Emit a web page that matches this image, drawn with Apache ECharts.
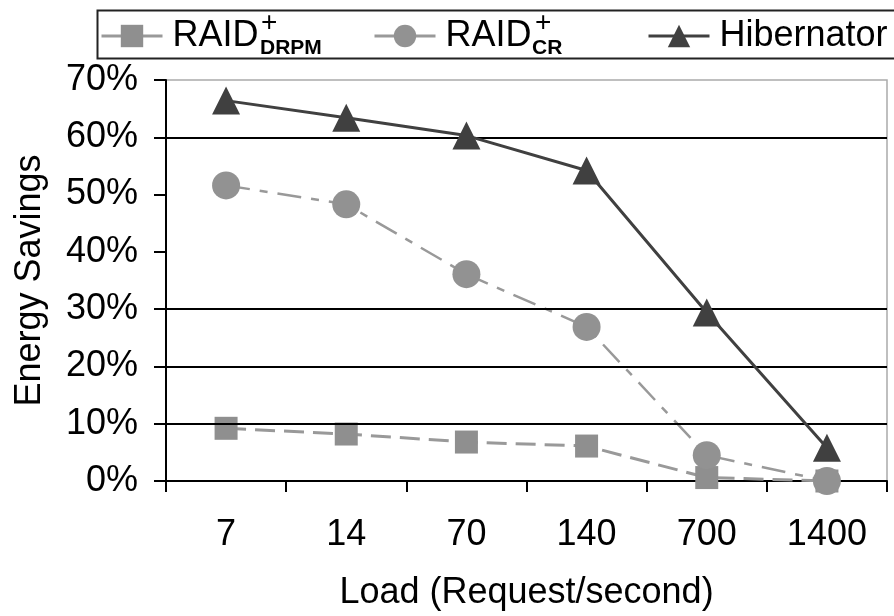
<!DOCTYPE html>
<html>
<head>
<meta charset="utf-8">
<script src="https://cdn.jsdelivr.net/npm/echarts@6/dist/echarts.min.js"></script>
<style>
html,body{margin:0;padding:0;background:#fff;}
#chart{width:894px;height:616px;}
</style>
</head>
<body>
<div id="chart"></div>
<script>
var categories = ['7', '14', '70', '140', '700', '1400'];
var raidDrpm = [9.2, 8.2, 6.8, 6.1, 0.6, 0];
var raidCr = [51.6, 48.3, 36.1, 26.9, 4.5, 0];
var hibernator = [66.4, 63.4, 60.3, 54.2, 29.4, 5.8];
var gridValues = [10, 20, 30, 60];
var seriesNames = ['RAID+DRPM', 'RAID+CR', 'Hibernator'];
var legendSubs = ['DRPM', 'CR'];

var FONT = '"Liberation Sans", Arial, Helvetica, sans-serif';
var chart = echarts.init(document.getElementById('chart'), null, {renderer: 'canvas'});

function legendCfg(name, left) {
  return {
    data: [name],
    left: left,
    top: 18,
    itemWidth: 61,
    itemHeight: 28,
    padding: 0,
    selectedMode: false,
    formatter: function (n) { return n === 'Hibernator' ? 'Hibernator' : 'RAID'; },
    textStyle: {fontFamily: FONT, fontSize: 36, color: '#000', padding: [0, 0, 0, 5]},
    lineStyle: {type: 'solid', width: 3}
  };
}

var option = {
  backgroundColor: '#fff',
  animation: false,
  textStyle: {fontFamily: FONT},
  grid: {
    left: 166, right: 7, top: 80, bottom: 134,
    show: true, borderColor: '#aaa', borderWidth: 1.5, backgroundColor: 'transparent'
  },
  legend: [
    legendCfg(seriesNames[0], 100),
    legendCfg(seriesNames[1], 373),
    legendCfg(seriesNames[2], 647)
  ],
  graphic: [
    {type: 'rect', left: 95, top: 8, shape: {width: 830, height: 48},
     style: {fill: 'none', stroke: '#222', lineWidth: 2}, z: 0},
    {type: 'text', left: 260, top: 38, style: {text: legendSubs[0], font: 'bold 21px ' + FONT, fill: '#000'}},
    {type: 'text', left: 261, top: 9, style: {text: '+', font: '28px ' + FONT, fill: '#000'}},
    {type: 'text', left: 532, top: 38, style: {text: legendSubs[1], font: 'bold 21px ' + FONT, fill: '#000'}},
    {type: 'text', left: 535, top: 9, style: {text: '+', font: '28px ' + FONT, fill: '#000'}}
  ],
  xAxis: {
    type: 'category',
    data: categories,
    boundaryGap: true,
    name: 'Load (Request/second)',
    nameLocation: 'middle',
    nameGap: 94,
    nameTextStyle: {fontSize: 36, color: '#000', fontFamily: FONT},
    axisLine: {show: true, lineStyle: {color: '#000', width: 2}},
    axisTick: {show: true, length: 11, lineStyle: {color: '#000', width: 2}},
    axisLabel: {fontSize: 36, color: '#000', margin: 36, fontFamily: FONT},
    splitLine: {show: false}
  },
  yAxis: {
    type: 'value',
    min: 0, max: 70, interval: 10,
    name: 'Energy Savings',
    nameLocation: 'middle',
    nameRotate: 90,
    nameGap: 118,
    nameTextStyle: {fontSize: 36, color: '#000', fontFamily: FONT},
    axisLine: {show: true, lineStyle: {color: '#000', width: 2}},
    axisTick: {show: true, length: 12, lineStyle: {color: '#000', width: 2}},
    axisLabel: {fontSize: 36, color: '#000', margin: 28, formatter: '{value}%', fontFamily: FONT},
    splitLine: {show: false}
  },
  series: [
    {
      name: 'gridlines', type: 'line', data: [], silent: true, z: 1,
      markLine: {
        silent: true, symbol: ['none', 'none'], label: {show: false},
        lineStyle: {color: '#000', width: 2, type: 'solid'},
        data: gridValues.map(function (v) { return {yAxis: v}; })
      }
    },
    {
      name: seriesNames[0], type: 'line', data: raidDrpm, z: 3,
      symbol: 'rect', symbolSize: 23,
      itemStyle: {color: '#8f8f8f'},
      lineStyle: {color: '#999', width: 3, type: [20, 9]}
    },
    {
      name: seriesNames[1], type: 'line', data: raidCr, z: 4,
      symbol: 'circle', symbolSize: 28,
      itemStyle: {color: '#929292'},
      lineStyle: {color: '#999', width: 2.5, type: [24, 10, 8, 10]}
    },
    {
      name: seriesNames[2], type: 'line', data: hibernator, z: 5,
      symbol: 'triangle', symbolSize: [28, 28],
      itemStyle: {color: '#404040'},
      lineStyle: {color: '#404040', width: 3, type: 'solid'}
    }
  ]
};
chart.setOption(option);
</script>
</body>
</html>
